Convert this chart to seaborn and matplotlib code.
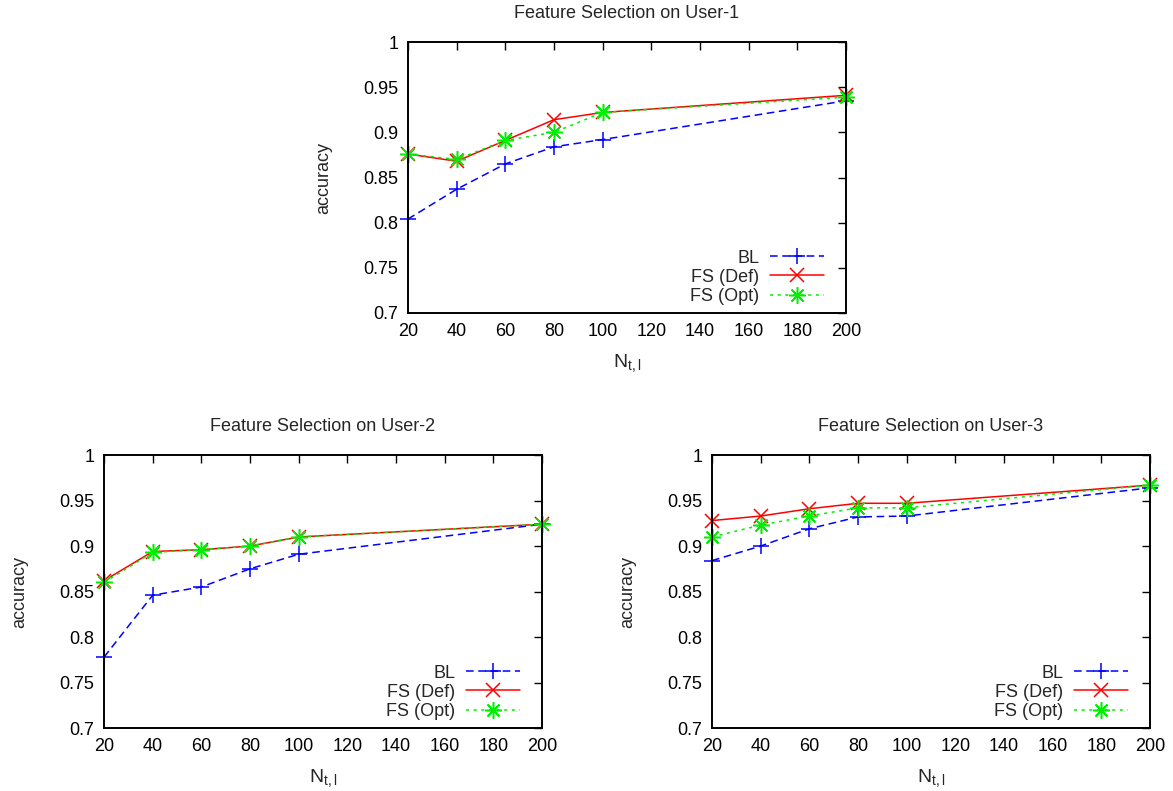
import numpy as np
import pandas as pd
import matplotlib
matplotlib.use('agg')
import matplotlib.pyplot as plt
import seaborn as sns

# valores
n_tl = [20, 40, 60, 80, 100, 200]

user1_bl = [0.804, 0.837, 0.865, 0.884, 0.892, 0.935]
user1_def = [0.876, 0.868, 0.891, 0.914, 0.922, 0.941]
user1_opt = [0.876, 0.870, 0.891, 0.900, 0.922, 0.939]

user2_bl = [0.778, 0.846, 0.855, 0.875, 0.891, 0.924]
user2_def = [0.862, 0.894, 0.896, 0.900, 0.910, 0.924]
user2_opt = [0.860, 0.893, 0.896, 0.900, 0.910, 0.924]

user3_bl = [0.884, 0.900, 0.919, 0.932, 0.933, 0.964]
user3_def = [0.928, 0.933, 0.941, 0.947, 0.947, 0.967]
user3_opt = [0.910, 0.923, 0.933, 0.942, 0.942, 0.967]

series_names = ['BL', 'FS (Def)', 'FS (Opt)']
titles = ['Feature Selection on User-1', 'Feature Selection on User-2', 'Feature Selection on User-3']
x_ticks = [20, 40, 60, 80, 100, 120, 140, 160, 180, 200]
y_ticks = [0.7, 0.75, 0.8, 0.85, 0.9, 0.95, 1]
y_tick_labels = ['0.7', '0.75', '0.8', '0.85', '0.9', '0.95', '1']

datos = [
    (user1_bl, user1_def, user1_opt),
    (user2_bl, user2_def, user2_opt),
    (user3_bl, user3_def, user3_opt),
]

sns.set_theme(style='white')
plt.rcParams['font.family'] = ['Liberation Sans', 'DejaVu Sans']
plt.rcParams['font.size'] = 13
plt.rcParams['xtick.direction'] = 'in'
plt.rcParams['ytick.direction'] = 'in'

# estilo tipo gnuplot
estilos = {
    'BL': dict(color='#0000ff', markeredgecolor='#0000ff', marker='+',
               linestyle=(0, (5, 3)), markersize=11),
    'FS (Def)': dict(color='#ff0000', markeredgecolor='#ff0000', marker='x',
                     linestyle='-', markersize=10),
    'FS (Opt)': dict(color='#00ee00', markeredgecolor='#00ee00', marker=(8, 2, 0),
                     linestyle=(0, (2, 3)), markersize=12),
}

fig = plt.figure(figsize=(11.73, 7.91), dpi=100)
posiciones = [
    [0.3478, 0.6043, 0.3734, 0.3426],
    [0.0887, 0.0796, 0.3734, 0.3451],
    [0.6070, 0.0796, 0.3734, 0.3451],
]

for pos, titulo, valores in zip(posiciones, titles, datos):
    ax = fig.add_axes(pos)
    frame = pd.DataFrame({'N': n_tl})
    for nombre, v in zip(series_names, valores):
        frame[nombre] = v
        sns.lineplot(data=frame, x='N', y=nombre, ax=ax, label=nombre,
                     linewidth=1.1, markeredgewidth=1.1, clip_on=False,
                     **estilos[nombre])
    ax.set_xlim(20, 200)
    ax.set_ylim(0.7, 1)
    ax.set_xticks(x_ticks)
    ax.set_yticks(y_ticks)
    ax.set_yticklabels(y_tick_labels)
    ax.tick_params(top=True, right=True, length=6, width=1, colors='black',
                   labelsize=13, pad=7)
    for s in ax.spines.values():
        s.set_color('black')
        s.set_linewidth(1.4)
    ax.set_title(titulo, fontsize=13, pad=17)
    ax.set_xlabel(r'$\mathregular{N_{t,l}}$', fontsize=14, labelpad=9)
    ax.set_ylabel('accuracy', fontsize=13, labelpad=22)
    ax.legend(loc='lower right', frameon=False, markerfirst=False,
              handlelength=3.0, labelspacing=0.12, handletextpad=0.6,
              borderaxespad=0.0, borderpad=0.0, fontsize=13,
              bbox_to_anchor=(0.95, 0.03))

fig.savefig('out.png', dpi=100)
